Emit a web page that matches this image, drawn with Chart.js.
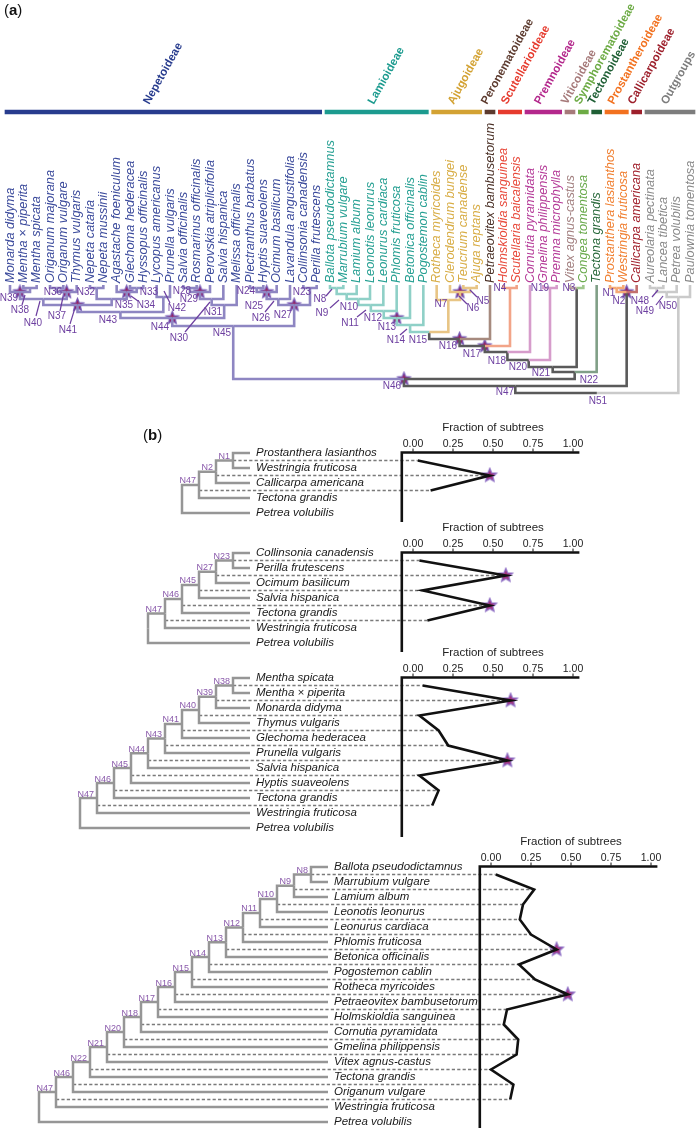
<!DOCTYPE html>
<html>
<head>
<meta charset="utf-8">
<script src="https://cdn.jsdelivr.net/npm/chart.js@4.4.1/dist/chart.umd.min.js"></script>
<style>
  body { margin: 0; background: #fff; }
  #wrap { position: relative; width: 697px; height: 1128px; overflow: hidden; }
  #wrap canvas { position: absolute; left: 0; }
</style>
</head>
<body>
<div id="wrap"></div>
<script>
// ---------- data: panel (a) ----------
const tipsA = ["Monarda didyma","Mentha × piperita","Mentha spicata","Origanum majorana","Origanum vulgare",
  "Thymus vulgaris","Nepeta cataria","Nepeta mussinii","Agastache foeniculum","Glechoma hederacea",
  "Hyssopus officinalis","Lycopus americanus","Prunella vulgaris","Salvia officinalis","Rosmarinus officinalis",
  "Perovskia atriplicifolia","Salvia hispanica","Melissa officinalis","Plectranthus barbatus","Hyptis suaveolens",
  "Ocimum basilicum","Lavandula angustifolia","Collinsonia canadensis","Perilla frutescens",
  "Ballota pseudodictamnus","Marrubium vulgare","Lamium album","Leonotis leonurus","Leonurus cardiaca",
  "Phlomis fruticosa","Betonica officinalis","Pogostemon cablin",
  "Rotheca myricoides","Clerodendrum bungei","Teucrium canadense","Ajuga reptans",
  "Petraeovitex bambusetorum","Holmskioldia sanguinea","Scutellaria baicalensis",
  "Cornutia pyramidata","Gmelina philippensis","Premna microphylla","Vitex agnus-castus","Congea tomentosa",
  "Tectona grandis","Prostanthera lasianthos","Westringia fruticosa","Callicarpa americana",
  "Aureolaria pectinata","Lancea tibetica","Petrea volubilis","Paulownia tomentosa"];

const subfamilies = ["Nepetoideae","Lamioideae","Ajugoideae","Peronematoideae","Scutellarioideae","Premnoideae",
  "Viticoideae","Symphorematoideae","Tectonoideae","Prostantheroideae","Callicarpoideae","Outgroups"];
const subfamilySizes = [24, 8, 4, 1, 2, 3, 1, 1, 1, 2, 1, 4];

// node, child, child, depth below the tips
const treeA = [
  ["N38","Mentha × piperita","Mentha spicata",3], ["N39","Monarda didyma","N38",7],
  ["N36","Origanum majorana","Origanum vulgare",3], ["N37","N36","Thymus vulgaris",7],
  ["N40","N39","N37",14],
  ["N32","Nepeta cataria","Nepeta mussinii",3], ["N33","Glechoma hederacea","Hyssopus officinalis",3],
  ["N34","Agastache foeniculum","N33",7], ["N35","N32","N34",14],
  ["N41","N40","N35",20], ["N42","Lycopus americanus","Prunella vulgaris",12], ["N43","N41","N42",27],
  ["N28","Salvia officinalis","Rosmarinus officinalis",3], ["N29","N28","Perovskia atriplicifolia",7],
  ["N30","N29","Salvia hispanica",14], ["N31","N30","Melissa officinalis",20],
  ["N44","N43","N31",33],
  ["N24","Plectranthus barbatus","Hyptis suaveolens",3], ["N25","N24","Ocimum basilicum",7],
  ["N26","N25","Lavandula angustifolia",14], ["N23","Collinsonia canadensis","Perilla frutescens",3],
  ["N27","N26","N23",20], ["N45","N44","N27",41],
  ["N8","Ballota pseudodictamnus","Marrubium vulgare",3], ["N9","N8","Lamium album",9],
  ["N10","N9","Leonotis leonurus",14], ["N11","N10","Leonurus cardiaca",20],
  ["N12","N11","Phlomis fruticosa",26], ["N13","N12","Betonica officinalis",33],
  ["N14","N13","Pogostemon cablin",40],
  ["N5","Teucrium canadense","Ajuga reptans",3], ["N6","Clerodendrum bungei","N5",7],
  ["N7","Rotheca myricoides","N6",15], ["N15","N14","N7",47],
  ["N16","N15","Petraeovitex bambusetorum",54],
  ["N4","Holmskioldia sanguinea","Scutellaria baicalensis",3], ["N17","N16","N4",61],
  ["N18","N17","Cornutia pyramidata",67], ["N19","Gmelina philippensis","Premna microphylla",3],
  ["N20","N18","N19",75], ["N3","Vitex agnus-castus","Congea tomentosa",3],
  ["N21","N20","N3",82], ["N22","N21","Tectona grandis",87], ["N46","N45","N22",94],
  ["N1","Prostanthera lasianthos","Westringia fruticosa",3], ["N2","N1","Callicarpa americana",7],
  ["N47","N46","N2",101],
  ["N48","Aureolaria pectinata","Lancea tibetica",3], ["N49","N48","Petrea volubilis",7],
  ["N50","N49","Paulownia tomentosa",12], ["N51","N47","N50",108]
];
const starsA = ["N39","N37","N34","N41","N29","N44","N25","N27","N13","N6","N16","N17","N2","N46"];

// ---------- data: panel (b) ----------
const b1Tips = ["Prostanthera lasianthos","Westringia fruticosa","Callicarpa americana","Tectona grandis","Petrea volubilis"];
const b1Nodes = ["N1","N2","N47"];
const b1Frac = [0.03, 0.48, 0.11];
const b1Peaks = ["N2"];

const b2Tips = ["Collinsonia canadensis","Perilla frutescens","Ocimum basilicum","Salvia hispanica",
  "Tectona grandis","Westringia fruticosa","Petrea volubilis"];
const b2Nodes = ["N23","N27","N45","N46","N47"];
const b2Frac = [0.04, 0.58, 0.06, 0.48, 0.09];
const b2Peaks = ["N27","N46"];

const b3Tips = ["Mentha spicata","Mentha × piperita","Monarda didyma","Thymus vulgaris","Glechoma hederacea",
  "Prunella vulgaris","Salvia hispanica","Hyptis suaveolens","Tectona grandis","Westringia fruticosa","Petrea volubilis"];
const b3Nodes = ["N38","N39","N40","N41","N43","N44","N45","N46","N47"];
const b3Frac = [0.06, 0.61, 0.04, 0.16, 0.22, 0.59, 0.04, 0.16, 0.12];
const b3Peaks = ["N39","N44"];

const b4Tips = ["Ballota pseudodictamnus","Marrubium vulgare","Lamium album","Leonotis leonurus","Leonurus cardiaca",
  "Phlomis fruticosa","Betonica officinalis","Pogostemon cablin","Rotheca myricoides","Petraeovitex bambusetorum",
  "Holmskioldia sanguinea","Cornutia pyramidata","Gmelina philippensis","Vitex agnus-castus","Tectona grandis",
  "Origanum vulgare","Westringia fruticosa","Petrea volubilis"];
const b4Nodes = ["N8","N9","N10","N11","N12","N13","N14","N15","N16","N17","N18","N20","N21","N22","N46","N47"];
const b4Frac = [0.03, 0.27, 0.20, 0.18, 0.25, 0.41, 0.175, 0.275, 0.48, 0.10, 0.08, 0.17, 0.16, 0.0, 0.14, 0.12];
const b4Peaks = ["N13","N16"];

const fracTicks = [0, 0.25, 0.5, 0.75, 1];

// ---------- styles ----------
const FONT = '"Liberation Sans", Arial, sans-serif';
const cladeColor  = ["#283c8e","#1c9b8f","#d3a233","#5d3b2f","#e63b2e","#b4288c","#a67a7a","#6dab45","#1f5f35","#f2711f","#9d1f2b","#7d7d7d"];
const tipColor    = ["#3c4b9c","#27a093","#d8ad46","#4b3127","#e84a3c","#b53b98","#a38080","#6aaa4d","#2a6a3c","#f07f30","#a2222e","#8a8a8a"];
const branchColor = ["#8e86c2","#8fd0c7","#e8c585","#a68a7e","#f2a488","#d69ccb","#baa3a3","#a0c78d","#809f87","#f5aa76","#c36f6e","#cacaca"];
const backbone = "#5a5a5a";
const nodeLabelColor = "#6d3fa0";

// label placement for panel (a), in canvas pixels
const aLabelPos = {
  N39:[9,298], N38:[20,310], N40:[33,323], N36:[53,292], N37:[57,316], N41:[68,330], N32:[86,292],
  N35:[124,305], N34:[146,305], N33:[149,292], N43:[108,320], N42:[177,308], N28:[182,291], N29:[189,299],
  N44:[160,327], N30:[179,338], N31:[213,312], N24:[246,291], N25:[254,306], N26:[261,318], N27:[283,315],
  N23:[302,292], N8:[320,299], N9:[322,313], N10:[349,307], N11:[350,323], N12:[373,318], N13:[387,327],
  N14:[396,340], N15:[418,340], N7:[441,304], N6:[473,308], N5:[483,301], N16:[448,346], N4:[500,288],
  N17:[472,354], N19:[540,288], N18:[497,361], N3:[569,288], N20:[518,367], N21:[541,373], N22:[589,380],
  N46:[392,386], N47:[505,392], N51:[598,401], N1:[609,293], N2:[619,301], N48:[640,301], N49:[645,311],
  N50:[668,306], N45:[222,333]
};
const aLeaders = [
  [22,305,25,295],[36,316,40,301],[60,311,63,297],[70,324,75,308],[138,301,131,296],[170,303,164,291],
  [185,332,210,302],[265,312,274,301],[326,296,332,289],[330,308,339,300],[357,317,366,310],
  [400,335,407,329],[467,304,459,296],[477,297,470,290],[652,297,658,290],[656,305,663,296]
];

const A_W = 697, A_H = 410, A_TIP_PX = 285, A_STEP = 680 / 51, A_FIRST = 10, BAR_Y = -173;
const TREE_STEP = 17, FRAC_UNIT = 160, ROW = 15;

const wrap = document.getElementById("wrap");
function addCanvas(top, h) {
  const c = document.createElement("canvas");
  c.width = 697; c.height = h; c.style.top = top + "px";
  wrap.appendChild(c);
  return c;
}

function makeStar(r, fill, stroke) {
  const s = Math.ceil(2 * r + 4);
  const c = document.createElement("canvas");
  c.width = s; c.height = s;
  const g = c.getContext("2d");
  g.translate(s / 2, s / 2);
  g.beginPath();
  for (let i = 0; i < 10; i++) {
    const rr = i % 2 ? r * 0.45 : r;
    const a = -Math.PI / 2 + i * Math.PI / 5;
    g.lineTo(rr * Math.cos(a), rr * Math.sin(a));
  }
  g.closePath();
  g.fillStyle = fill; g.fill();
  g.lineWidth = 1.3; g.strokeStyle = stroke; g.stroke();
  return c;
}

function lineDs(points, color, width, xAxisID) {
  return {
    data: points, showLine: true, borderColor: color, borderWidth: width,
    pointRadius: 0, pointHoverRadius: 0, fill: false, tension: 0, clip: false,
    borderCapStyle: "butt", borderJoinStyle: "miter", xAxisID: xAxisID || "x"
  };
}

const baseOptions = {
  responsive: false, animation: false, events: [],
  layout: { padding: 0, autoPadding: false },
  plugins: { legend: { display: false }, tooltip: { enabled: false } }
};

// ---------- panel (a) ----------
const tipGroup = [];
subfamilySizes.forEach((s, g) => { for (let k = 0; k < s; k++) tipGroup.push(g); });

const posA = {};
tipsA.forEach((t, i) => { posA[t] = { x: i, d: 0, g: tipGroup[i] }; });
treeA.forEach(([id, l, r, d]) => {
  const a = posA[l], b = posA[r];
  posA[id] = { x: (a.x + b.x) / 2, d: d, g: a.g === b.g ? a.g : -1 };
});

const dsA = [];
treeA.forEach(([id, l, r]) => {
  const p = posA[id];
  [l, r].forEach(c => {
    const q = posA[c];
    dsA.push(lineDs([{ x: q.x, y: q.d }, { x: q.x, y: p.d }, { x: p.x, y: p.d }],
      q.g < 0 ? backbone : branchColor[q.g], 2.6));
  });
});
let startIdx = 0;
subfamilies.forEach((name, g) => {
  const s = subfamilySizes[g];
  dsA.push(lineDs([{ x: startIdx - 0.4, y: BAR_Y }, { x: startIdx + s - 1 + 0.4, y: BAR_Y }], cladeColor[g], 4.5));
  startIdx += s;
});
dsA.push({
  data: starsA.map(id => ({ x: posA[id].x, y: posA[id].d })),
  pointStyle: makeStar(6.5, "#961f5e", "#7456b4"), pointRadius: 7, showLine: false, clip: false
});

const labelsA = {
  id: "labelsA",
  afterDatasetsDraw(chart) {
    const { ctx, scales: { x, y } } = chart;
    ctx.save();
    // tip names
    ctx.font = "italic 12.8px " + FONT;
    ctx.textAlign = "left"; ctx.textBaseline = "middle";
    tipsA.forEach((t, i) => {
      ctx.save();
      ctx.translate(x.getPixelForValue(i), y.getPixelForValue(-2));
      ctx.rotate(-Math.PI / 2);
      ctx.fillStyle = tipColor[tipGroup[i]];
      ctx.fillText(t, 0, 0);
      ctx.restore();
    });
    // subfamily names
    ctx.font = "bold 11.5px " + FONT;
    ctx.textBaseline = "alphabetic";
    let s0 = 0;
    subfamilies.forEach((name, g) => {
      const s = subfamilySizes[g];
      const mid = x.getPixelForValue(s0 + (s - 1) / 2) + (g === 0 ? -14 : -3);
      ctx.save();
      ctx.translate(mid, y.getPixelForValue(BAR_Y - 7));
      ctx.rotate(-61 * Math.PI / 180);
      ctx.fillStyle = cladeColor[g];
      ctx.fillText(name, 0, 0);
      ctx.restore();
      s0 += s;
    });
    // node labels
    ctx.font = "10px " + FONT;
    ctx.textAlign = "center"; ctx.textBaseline = "middle";
    ctx.fillStyle = nodeLabelColor;
    Object.entries(aLabelPos).forEach(([id, [lx, ly]]) => ctx.fillText(id, lx, ly));
    ctx.strokeStyle = nodeLabelColor; ctx.lineWidth = 1.2;
    aLeaders.forEach(([x1, y1, x2, y2]) => { ctx.beginPath(); ctx.moveTo(x1, y1); ctx.lineTo(x2, y2); ctx.stroke(); });
    // panel letter
    ctx.fillStyle = "#111"; ctx.textAlign = "left"; ctx.textBaseline = "alphabetic";
    ctx.font = "15px " + FONT; ctx.fillText("(", 4, 15);
    let w = ctx.measureText("(").width;
    ctx.font = "bold 15px " + FONT; ctx.fillText("a", 4 + w, 15);
    w += ctx.measureText("a").width;
    ctx.font = "15px " + FONT; ctx.fillText(")", 4 + w, 15);
    ctx.restore();
  }
};

new Chart(addCanvas(0, A_H), {
  type: "scatter",
  data: { datasets: dsA },
  options: Object.assign({}, baseOptions, {
    scales: {
      x: { type: "linear", display: false, min: -A_FIRST / A_STEP, max: (A_W - A_FIRST) / A_STEP },
      y: { type: "linear", display: false, reverse: true, min: -A_TIP_PX, max: A_H - A_TIP_PX }
    }
  }),
  plugins: [labelsA]
});

// ---------- panel (b) ----------
function drawPanel(tips, nodes, frac, peaks, lay) {
  const n = tips.length, m = nodes.length;
  const ys = [], xs = [];
  let prev = 0;
  for (let k = 0; k <= m; k++) { const yy = (prev + k + 1) / 2; ys.push(yy); xs.push(-(k + 1)); prev = yy; }

  const ds = [];
  const treeColor = "#969696";
  for (let t = 0; t < n; t++) {
    const k = t <= 1 ? 0 : t - 1;
    ds.push(lineDs([{ x: 0, y: t }, { x: xs[k], y: t }, { x: xs[k], y: ys[k] }], treeColor, 2.5));
  }
  for (let k = 0; k < m; k++) {
    ds.push(lineDs([{ x: xs[k], y: ys[k] }, { x: xs[k + 1], y: ys[k] }, { x: xs[k + 1], y: ys[k + 1] }], treeColor, 2.5));
  }
  ds.push(lineDs(frac.map((v, k) => ({ x: v, y: k + 0.5 })), "#111", 2.6, "xf"));
  ds.push({
    xAxisID: "xf", showLine: false, clip: false, pointRadius: 7,
    pointStyle: makeStar(7, "#a3307a", "#8c6cc4"),
    data: peaks.map(id => { const k = nodes.indexOf(id); return { x: frac[k], y: k + 0.5 }; })
  });

  const plug = {
    id: "panelText",
    beforeDatasetsDraw(chart) {
      const { ctx, scales: { x, xf, y } } = chart;
      ctx.save();
      ctx.strokeStyle = "#7a7a7a"; ctx.lineWidth = 1.6; ctx.setLineDash([3.2, 2.2]);
      frac.forEach((v, k) => {
        ctx.beginPath();
        ctx.moveTo(x.getPixelForValue(xs[k]), y.getPixelForValue(k + 0.5));
        ctx.lineTo(xf.getPixelForValue(v), y.getPixelForValue(k + 0.5));
        ctx.stroke();
      });
      ctx.setLineDash([]);
      // axis frame
      const top = y.getPixelForValue(-0.03);
      ctx.strokeStyle = "#111"; ctx.lineWidth = 2.6; ctx.lineCap = "butt";
      ctx.beginPath();
      ctx.moveTo(xf.getPixelForValue(1.04), top);
      ctx.lineTo(xf.getPixelForValue(-0.07), top);
      ctx.lineTo(xf.getPixelForValue(-0.07), y.getPixelForValue(n - 1 + 0.6));
      ctx.stroke();
      ctx.lineWidth = 1;
      fracTicks.forEach(v => {
        const px = xf.getPixelForValue(v);
        ctx.beginPath(); ctx.moveTo(px, top - 1); ctx.lineTo(px, top - 4); ctx.stroke();
      });
      ctx.restore();
    },
    afterDatasetsDraw(chart) {
      const { ctx, scales: { x, xf, y } } = chart;
      const top = y.getPixelForValue(-0.03);
      ctx.save();
      ctx.fillStyle = "#222"; ctx.textAlign = "center"; ctx.textBaseline = "middle";
      ctx.font = "10.5px " + FONT;
      fracTicks.forEach(v => ctx.fillText(v.toFixed(2), xf.getPixelForValue(v), top - 8));
      ctx.font = "11.5px " + FONT;
      ctx.fillText("Fraction of subtrees", xf.getPixelForValue(0.5), top - 25);
      ctx.textAlign = "left";
      ctx.font = "italic 11.5px " + FONT;
      ctx.fillStyle = "#1a1a1a";
      tips.forEach((t, i) => ctx.fillText(t, x.getPixelForValue(0) + 6, y.getPixelForValue(i)));
      ctx.font = "9px " + FONT;
      ctx.fillStyle = "#8a5aab"; ctx.textAlign = "right"; ctx.textBaseline = "alphabetic";
      nodes.forEach((id, k) => ctx.fillText(id, x.getPixelForValue(xs[k]) - 3, y.getPixelForValue(ys[k]) - 1.5));
      if (lay.letter) {
        ctx.fillStyle = "#111"; ctx.textAlign = "left";
        const lx = 143, ly = lay.y0 - lay.top - 13;
        ctx.font = "15px " + FONT; ctx.fillText("(", lx, ly);
        let w = ctx.measureText("(").width;
        ctx.font = "bold 15px " + FONT; ctx.fillText("b", lx + w, ly);
        w += ctx.measureText("b").width;
        ctx.font = "15px " + FONT; ctx.fillText(")", lx + w, ly);
      }
      ctx.restore();
    }
  };

  new Chart(addCanvas(lay.top, lay.h), {
    type: "scatter",
    data: { datasets: ds },
    options: Object.assign({}, baseOptions, {
      scales: {
        x: { type: "linear", display: false, min: -lay.tipX / TREE_STEP, max: (697 - lay.tipX) / TREE_STEP },
        xf: { type: "linear", axis: "x", display: false, min: -lay.f0 / FRAC_UNIT, max: (697 - lay.f0) / FRAC_UNIT },
        y: { type: "linear", display: false, reverse: true,
             min: (lay.top - lay.y0) / ROW, max: (lay.top + lay.h - lay.y0) / ROW }
      }
    }),
    plugins: [plug]
  });
}

drawPanel(b1Tips, b1Nodes, b1Frac, b1Peaks, { top: 410, h: 120, y0: 453, tipX: 250, f0: 413, letter: true });
drawPanel(b2Tips, b2Nodes, b2Frac, b2Peaks, { top: 515, h: 140, y0: 553, tipX: 250, f0: 413 });
drawPanel(b3Tips, b3Nodes, b3Frac, b3Peaks, { top: 640, h: 200, y0: 678, tipX: 250, f0: 413 });
drawPanel(b4Tips, b4Nodes, b4Frac, b4Peaks, { top: 826, h: 302, y0: 867, tipX: 328, f0: 491 });
</script>
</body>
</html>
